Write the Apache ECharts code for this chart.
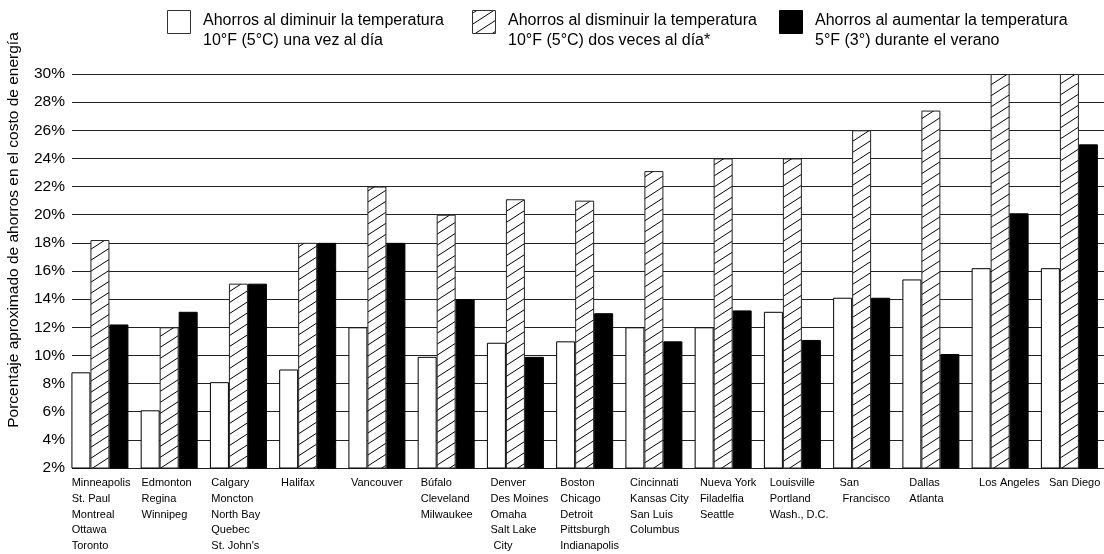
<!DOCTYPE html>
<html>
<head>
<meta charset="utf-8">
<style>
  html, body { margin: 0; padding: 0; background: #fff; }
  #chart { width: 1104px; height: 554px; }
</style>
<script src="https://cdn.jsdelivr.net/npm/echarts@6/dist/echarts.min.js"></script>
</head>
<body>
<div id="chart"></div>
<script>
// City groups shown under each cluster of bars
const categories = [
  'Minneapolis\nSt. Paul\nMontreal\nOttawa\nToronto',
  'Edmonton\nRegina\nWinnipeg',
  'Calgary\nMoncton\nNorth Bay\nQuebec\nSt. John\'s',
  'Halifax',
  'Vancouver',
  'Búfalo\nCleveland\nMilwaukee',
  'Denver\nDes Moines\nOmaha\nSalt Lake\n City',
  'Boston\nChicago\nDetroit\nPittsburgh\nIndianapolis',
  'Cincinnati\nKansas City\nSan Luis\nColumbus',
  'Nueva York\nFiladelfia\nSeattle',
  'Louisville\nPortland\nWash., D.C.',
  'San\n Francisco',
  'Dallas\nAtlanta',
  'Los Angeles',
  'San Diego'
];

// Savings (%) lowering 10°F once a day
const onceDaily = [8.8, 6.1, 8.1, 9.0, 12.0, 9.9, 10.9, 11.0, 12.0, 12.0, 13.1, 14.1, 15.4, 16.2, 16.2];
// Savings (%) lowering 10°F twice a day
const twiceDaily = [18.2, 12.0, 15.1, 18.0, 22.0, 20.0, 21.1, 21.0, 23.1, 24.0, 24.0, 26.0, 27.4, 30.0, 30.0];
// Savings (%) raising 5°F in summer
const summerRaise = [12.2, 13.1, 15.1, 18.0, 18.0, 14.0, 9.9, 13.0, 11.0, 13.2, 11.1, 14.1, 10.1, 20.1, 25.0];

const seriesNames = [
  'Ahorros al diminuir la temperatura\n10°F (5°C) una vez al día',
  'Ahorros al disminuir la temperatura\n10°F (5°C) dos veces al día*',
  'Ahorros al aumentar la temperatura\n5°F (3°) durante el verano'
];

const yTicks = [2, 4, 6, 8, 10, 12, 14, 16, 18, 20, 22, 24, 26, 28, 30];
const yTitle = 'Porcentaje aproximado de ahorros en el costo de energía';

const FONT = '"Liberation Sans", Arial, Helvetica, sans-serif';

// Diagonal hatch tile
function makeHatch() {
  const w = 17, h = 11;
  const c = document.createElement('canvas');
  c.width = w; c.height = h;
  const ctx = c.getContext('2d');
  ctx.fillStyle = '#fff';
  ctx.fillRect(0, 0, w, h);
  ctx.strokeStyle = '#000';
  ctx.lineWidth = 1;
  for (const dy of [-h, 0, h]) {
    ctx.beginPath();
    ctx.moveTo(-w, 2 * h + dy);
    ctx.lineTo(2 * w, -h + dy);
    ctx.stroke();
  }
  return c;
}
const hatch = { image: makeHatch(), repeat: 'repeat' };

const seriesStyles = [
  { color: '#fff', borderColor: '#000', borderWidth: 1 },
  { color: hatch, borderColor: '#222', borderWidth: 1 },
  { color: '#000', borderColor: '#000', borderWidth: 1 }
];

// Layout of the plot area
const plotTop = 74, plotBottom = 86;
const gridLeft = 72;
const bandLeft = 65.3, bandWidth = 69.8;
const groupHalf = 28.5;
const n = categories.length;
const barsRight = 1104 - (bandLeft + n * bandWidth);

// Legend keys: swatch position and text position
const legendBoxX = [167, 472, 779];
const legendTextX = [203, 508, 815];

const legendGraphics = [];
seriesNames.forEach((name, i) => {
  legendGraphics.push({
    type: 'rect',
    shape: { x: legendBoxX[i] + 0.5, y: 10.5, width: 23, height: 23 },
    style: { fill: seriesStyles[i].color, stroke: i === 2 ? '#000' : '#333', lineWidth: 1 }
  });
  legendGraphics.push({
    type: 'text',
    x: legendTextX[i], y: 10,
    style: {
      text: name, fontFamily: FONT, fontSize: 16, lineHeight: 20.7,
      fill: '#000', align: 'left', verticalAlign: 'top'
    }
  });
});

const chart = echarts.init(document.getElementById('chart'), null, { renderer: 'canvas' });

chart.setOption({
  animation: false,
  backgroundColor: '#fff',
  textStyle: { fontFamily: FONT },
  grid: [
    { left: gridLeft, right: 0, top: plotTop, bottom: plotBottom },
    { left: bandLeft, right: barsRight, top: plotTop, bottom: plotBottom },
    { left: bandLeft - groupHalf, right: barsRight + groupHalf, top: plotTop, bottom: plotBottom }
  ],
  xAxis: [
    { gridIndex: 0, type: 'value', show: false, min: 0, max: 1 },
    { gridIndex: 1, type: 'category', data: categories, show: false },
    {
      gridIndex: 2, type: 'category', data: categories,
      axisLine: { show: false }, axisTick: { show: false },
      axisLabel: {
        interval: 0, align: 'left', margin: 9,
        fontFamily: FONT, fontSize: 11, lineHeight: 15.75, color: '#000'
      }
    }
  ],
  yAxis: [
    {
      gridIndex: 0, type: 'value', min: yTicks[0], max: yTicks[yTicks.length - 1], interval: 2,
      axisLine: { show: false }, axisTick: { show: false },
      axisLabel: { formatter: '{value}%', margin: 7, fontFamily: FONT, fontSize: 15.5, color: '#000' },
      splitLine: { lineStyle: { color: '#222', width: 1 } }
    },
    { gridIndex: 1, type: 'value', min: yTicks[0], max: yTicks[yTicks.length - 1], show: false, splitLine: { show: false } },
    { gridIndex: 2, type: 'value', min: 0, max: 1, show: false, splitLine: { show: false } }
  ],
  graphic: [{
    type: 'text', x: 14, y: 230, rotation: Math.PI / 2,
    style: { text: yTitle, fontFamily: FONT, fontSize: 15.5, fill: '#000', align: 'center', verticalAlign: 'middle' }
  }].concat(legendGraphics),
  series: seriesNames.map((name, i) => ({
    name: name, type: 'bar', xAxisIndex: 1, yAxisIndex: 1,
    data: [onceDaily, twiceDaily, summerRaise][i],
    barWidth: 19, barGap: '0%',
    itemStyle: seriesStyles[i]
  }))
});
</script>
</body>
</html>
